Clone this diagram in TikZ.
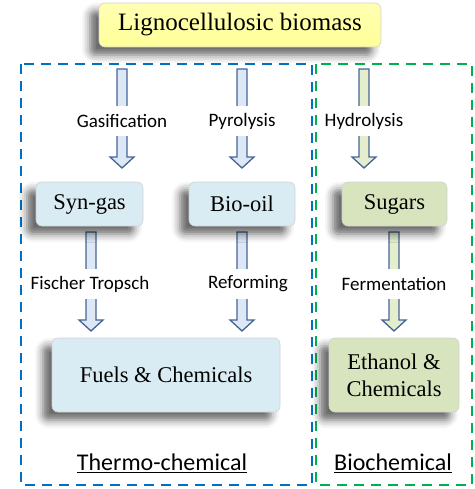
\documentclass[tikz,border=0pt]{standalone}
\usepackage{fontspec}
\setmainfont{Liberation Serif}
\newfontfamily\lblfont{Carlito}
\usetikzlibrary{shadows.blur}
\definecolor{tblue}{RGB}{0,112,192}
\definecolor{tgreen}{RGB}{0,176,80}
\definecolor{boxblue}{RGB}{218,236,243}
\definecolor{boxgreen}{RGB}{215,228,189}
\definecolor{boxyellow}{RGB}{255,255,153}
\definecolor{arrline}{RGB}{70,100,150}
\definecolor{arrblue}{RGB}{220,232,246}
\definecolor{arrgreen}{RGB}{228,238,205}
\tikzset{
  x=1pt,y=1pt,
  procbox/.style={rounded corners=6pt, draw=gray!35, line width=0.6pt, inner sep=0pt,
    font=\fontsize{22.5}{27}\selectfont, align=center,
    blur shadow={shadow xshift=-9pt, shadow yshift=-8pt, shadow blur radius=8pt, shadow opacity=60}},
  lbl/.style={fill=white, inner xsep=2pt, inner ysep=0pt, minimum height=30pt, font=\lblfont\fontsize{19}{22}\selectfont},
  grp/.style={font=\lblfont\fontsize{24}{28}\selectfont, inner sep=1pt},
  blockarr/.style={draw=arrline, line width=1.3pt, line join=miter},
  thermobox/.style={draw=tblue, line width=2.6pt, dash pattern=on 10pt off 7pt},
  biobox/.style={draw=tgreen, line width=2.6pt, dash pattern=on 10pt off 7pt},
}
\begin{document}
\begin{tikzpicture}
\useasboundingbox (0,0) rectangle (474,-489);
% group frames
\draw[thermobox] (21,-64) rectangle (312,-485);
\draw[biobox] (316,-64) rectangle (472,-485);
% block arrows (upper row)
\draw[blockarr, fill=arrblue] (117,-69) -- (127,-69) -- (127,-157) -- (134,-157) -- (122,-168) -- (110,-157) -- (117,-157) -- cycle;
\draw[blockarr, fill=arrblue] (237,-69) -- (247,-69) -- (247,-157) -- (254,-157) -- (242,-168) -- (230,-157) -- (237,-157) -- cycle;
\draw[blockarr, fill=arrgreen] (359,-69) -- (369,-69) -- (369,-157) -- (376,-157) -- (364,-168) -- (352,-157) -- (359,-157) -- cycle;
% block arrows (lower row)
\draw[blockarr, fill=arrblue] (86,-232) -- (96,-232) -- (96,-320) -- (103,-320) -- (91,-331) -- (79,-320) -- (86,-320) -- cycle;
\draw[blockarr, fill=arrblue] (237,-232) -- (247,-232) -- (247,-320) -- (254,-320) -- (242,-331) -- (230,-320) -- (237,-320) -- cycle;
\draw[blockarr, fill=arrgreen] (389,-232) -- (399,-232) -- (399,-320) -- (406,-320) -- (394,-331) -- (382,-320) -- (389,-320) -- cycle;
% labels
\node[lbl] (gas) at (122,-121) {Gasification};
\node[lbl] (pyr) at (242,-121) {Pyrolysis};
\node[lbl] (hyd) at (364,-121) {Hydrolysis};
\node[lbl] (ft) at (90,-284) {Fischer Tropsch};
\node[lbl] (ref) at (248,-284) {Reforming};
\node[lbl] (fer) at (394,-284) {Fermentation};
% boxes
\node[procbox, top color=boxyellow!75!white, bottom color=boxyellow, minimum width=282pt, minimum height=44pt, font=\fontsize{25}{30}\selectfont] (bio) at (240,-25) {Lignocellulosic biomass};
\node[procbox, fill=boxblue, minimum width=107pt, minimum height=44pt] (syn) at (89.5,-204) {Syn-gas};
\node[procbox, fill=boxblue, minimum width=106pt, minimum height=44pt] (oil) at (242,-204) {Bio-oil};
\node[procbox, fill=boxgreen, minimum width=105pt, minimum height=44pt] (sug) at (394.5,-204) {Sugars};
\node[procbox, fill=boxblue, minimum width=228pt, minimum height=74pt] (fuel) at (166,-375) {Fuels \& Chemicals};
\node[procbox, fill=boxgreen, minimum width=130pt, minimum height=74pt] (eth) at (394,-375) {Ethanol \&\\Chemicals};
% group titles
\node[grp] (thermo) at (162,-463) {\underline{Thermo-chemical}};
\node[grp] (biochem) at (393,-463) {\underline{Biochemical}};
\end{tikzpicture}
\end{document}
